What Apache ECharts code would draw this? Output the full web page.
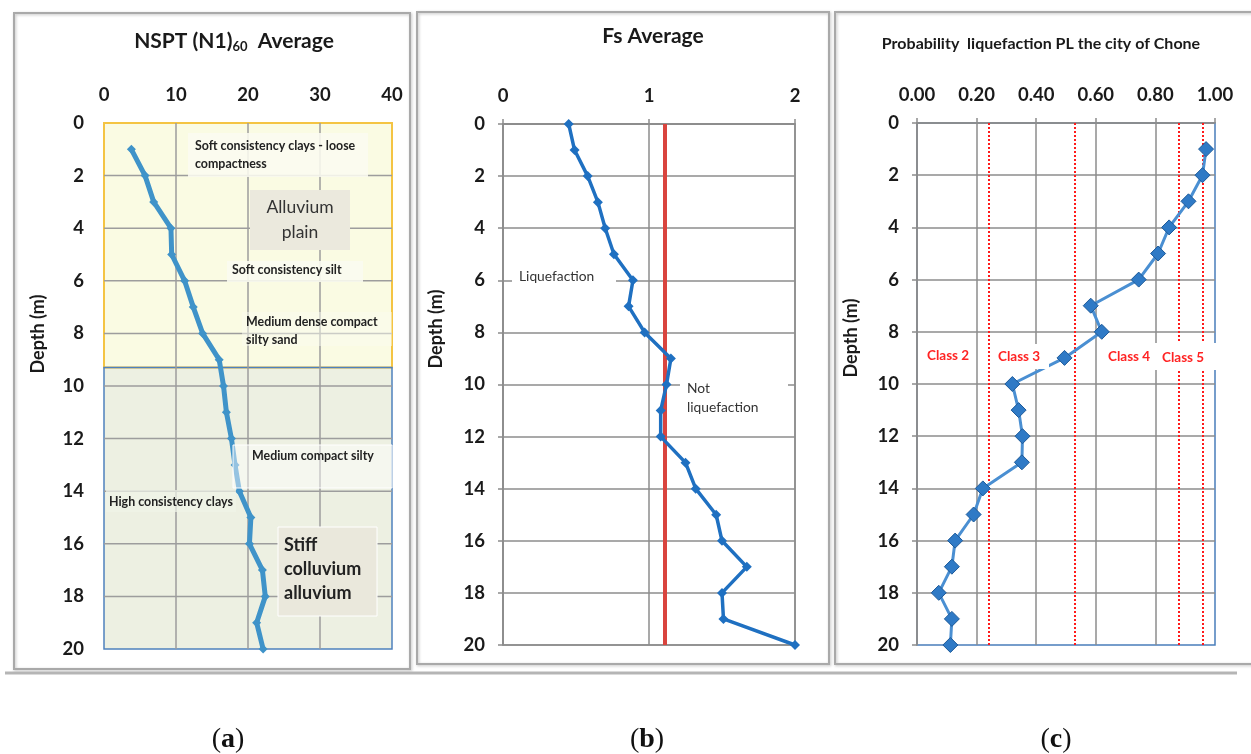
<!DOCTYPE html>
<html>
<head>
<meta charset="utf-8">
<script src="https://cdn.jsdelivr.net/npm/echarts@6/dist/echarts.min.js"></script>
<style>html,body{margin:0;padding:0;background:#fff;}#main{width:1251px;height:754px;}</style>
</head>
<body>
<div id="main"></div>
<script>
// ---- data ----
const depthA = [1,2,3,4,5,6,7,8,9,10,11,12,13,14,15,16,17,18,19,20];
const nsptA  = [3.8,5.7,6.9,9.3,9.4,11.2,12.4,13.7,16.0,16.6,17.0,17.7,18.2,18.8,20.4,20.2,22.0,22.4,21.2,22.1];
const depthB = [0,1,2,3,4,5,6,7,8,9,10,11,12,13,14,15,16,17,18,19,20];
const fsB    = [0.45,0.49,0.58,0.65,0.70,0.76,0.89,0.86,0.97,1.15,1.12,1.08,1.08,1.25,1.32,1.46,1.50,1.67,1.50,1.51,2.0];
const fsLimit = [1.11];
const depthC = [1,2,3,4,5,6,7,8,9,10,11,12,13,14,15,16,17,18,19,20];
const plC    = [0.970,0.958,0.911,0.846,0.809,0.744,0.583,0.620,0.495,0.320,0.341,0.354,0.352,0.221,0.190,0.128,0.117,0.073,0.117,0.112];
const classBounds = [0.24,0.53,0.88,0.96];
const layerA = [[0,9.3],[9.3,20]];
const depthTicks = {min:0,max:20,interval:2};
// inner grid positions of panel (a) (tick values), drawn over the soil layers
const nsptGrid  = [10,20,30];
const depthGrid = [2,4,6,8,10,12,14,16,18];

const FONT = 'Lato';
const pairs = (xs, ys) => xs.map((v,i)=>[v, ys[i]]);

const chart = echarts.init(document.getElementById('main'), null, {renderer:'canvas'});

const LBL = 18.5;
function xAxisBase(gi, min, max, interval, extra){
  return Object.assign({
    gridIndex: gi, type:'value', position:'top', min, max, interval,
    axisLine:{show:true, lineStyle:{color:'#8c8c8c', width:1.5}},
    axisTick:{show:true, inside:false, length:5, lineStyle:{color:'#8c8c8c', width:1.5}},
    axisLabel:{fontFamily:FONT, fontWeight:'bold', fontSize:LBL, color:'#1a1a1a', margin:18},
    splitLine:{show:true, lineStyle:{color:'#8c8c8c', width:1.5}}
  }, extra||{});
}
function yAxisBase(gi, extra){
  return Object.assign({
    gridIndex: gi, type:'value', inverse:true, min:depthTicks.min, max:depthTicks.max, interval:depthTicks.interval,
    axisLine:{show:true, lineStyle:{color:'#8c8c8c', width:1.5}},
    axisTick:{show:true, inside:false, length:5, lineStyle:{color:'#8c8c8c', width:1.5}},
    axisLabel:{fontFamily:FONT, fontWeight:'bold', fontSize:LBL, color:'#1a1a1a', margin:18},
    splitLine:{show:true, lineStyle:{color:'#8c8c8c', width:1.5}}
  }, extra||{});
}

// grid-line helper series for panel (a)
const gridSeriesA = nsptGrid.map(v=>({type:'line', silent:true, xAxisIndex:0, yAxisIndex:0, z:2,
    symbol:'none', lineStyle:{color:'#9d9d9d', width:1.5}, data:[[v, depthTicks.min],[v, depthTicks.max]]}))
  .concat(depthGrid.map(d=>({type:'line', silent:true, xAxisIndex:0, yAxisIndex:0, z:2,
    symbol:'none', lineStyle:{color:'#9d9d9d', width:1.5}, data:[[0, d],[40, d]]})));

const option = {
  animation:false,
  backgroundColor:'#ffffff',
  title:[
    {text:'{t|NSPT (N1)}{s|60}{t|  Average}', left:229, top:25, textAlign:'center',
     textStyle:{rich:{t:{fontFamily:FONT, fontWeight:'bold', fontSize:21, color:'#1a1a1a'},
                      s:{fontFamily:FONT, fontWeight:'bold', fontSize:13, color:'#1a1a1a', padding:[10,0,0,0]}}}},
    {text:'Fs Average', left:648, top:21, textAlign:'center',
     textStyle:{fontFamily:FONT, fontWeight:'bold', fontSize:21, color:'#1a1a1a'}},
    {text:'Probability  liquefaction PL the city of Chone', left:1036, top:31, textAlign:'center',
     textStyle:{fontFamily:FONT, fontWeight:'bold', fontSize:16, color:'#1a1a1a'}}
  ],
  grid:[
    {left:104, top:123, width:288, height:526, show:false},
    {left:503, top:124, width:292, height:521, show:true, backgroundColor:'#fff', borderColor:'#8c8c8c', borderWidth:1.5},
    {left:917, top:123, width:298, height:522, show:true, backgroundColor:'#fff', borderColor:'#4a7ebb', borderWidth:1.5}
  ],
  xAxis:[
    xAxisBase(0, 0, 40, 10, {axisLine:{show:false}, axisTick:{show:false}, splitLine:{show:false}}),
    xAxisBase(1, 0, 2, 1),
    xAxisBase(2, 0, 1, 0.2, {axisLabel:{fontFamily:FONT, fontWeight:'bold', fontSize:LBL, color:'#1a1a1a', margin:18,
      formatter:v=>v.toFixed(2)},
      splitLine:{show:true, showMaxLine:false, lineStyle:{color:'#8c8c8c', width:1.5}}})
  ],
  yAxis:[
    yAxisBase(0, {axisLine:{show:false}, axisTick:{show:false}, splitLine:{show:false},
      axisLabel:{fontFamily:FONT, fontWeight:'bold', fontSize:LBL, color:'#1a1a1a', margin:20}}),
    yAxisBase(1, {axisLabel:{fontFamily:FONT, fontWeight:'bold', fontSize:LBL, color:'#1a1a1a', margin:18}}),
    yAxisBase(2, {axisLabel:{fontFamily:FONT, fontWeight:'bold', fontSize:LBL, color:'#1a1a1a', margin:18},
      splitLine:{show:true, showMaxLine:false, lineStyle:{color:'#8c8c8c', width:1.5}}})
  ],
  series:[
    {type:'line', name:'NSPT (N1)60', xAxisIndex:0, yAxisIndex:0, data:pairs(nsptA, depthA), z:3,
     symbol:'diamond', symbolSize:9, lineStyle:{color:'#3f93c9', width:5}, itemStyle:{color:'#3f93c9'}},
    {type:'line', name:'Fs', xAxisIndex:1, yAxisIndex:1, data:pairs(fsB, depthB), z:3,
     symbol:'diamond', symbolSize:10, lineStyle:{color:'#1f70c1', width:3.5}, itemStyle:{color:'#1f70c1'},
     markLine:{silent:true, symbol:'none', z:2, label:{show:false},
       lineStyle:{color:'#d9443e', width:4, type:'solid'},
       data:fsLimit.map(v=>({xAxis:v}))}},
    {type:'line', name:'PL', xAxisIndex:2, yAxisIndex:2, data:pairs(plC, depthC), z:3,
     symbol:'diamond', symbolSize:15, lineStyle:{color:'#4a8fd2', width:3}, itemStyle:{color:'#2f7ac6', borderColor:'#1d5a99', borderWidth:1},
     markLine:{silent:true, symbol:'none', z:2, label:{show:false},
       lineStyle:{color:'#ff1a1a', width:2, type:[2,2]},
       data:classBounds.map(v=>({xAxis:v}))}}
  ].concat(gridSeriesA),
  graphic:[]
};

chart.setOption(option);

// decorative frames, layer backgrounds, annotations and axis names
const g = [];
const frame = (x,y,w,h)=>({type:'rect', silent:true, z:-10, shape:{x,y,width:w,height:h},
  style:{fill:'none', stroke:'#a9a9a9', lineWidth:2, shadowBlur:3, shadowColor:'rgba(0,0,0,0.25)', shadowOffsetX:1, shadowOffsetY:1}});
g.push(frame(14,13,396,656));
g.push(frame(417,12,412,652));
g.push(frame(835,12,424,652));
g.push({type:'line', silent:true, z:-10, shape:{x1:5,y1:673,x2:1237,y2:673}, style:{stroke:'#b5b5b5', lineWidth:3}});

// soil layers of panel (a), placed through the axis scales
const px = (x,y)=>chart.convertToPixel({xAxisIndex:0, yAxisIndex:0}, [x,y]);
const layerFill = ['#fafbe3', '#edf0e2'];
const layerStroke = [['#f4c443',2], ['#4f81bd',1.5]];
layerA.forEach((r,i)=>{
  const p0 = px(0, r[0]);
  const p1 = px(40, r[1]);
  g.push({type:'rect', silent:true, z:-6, shape:{x:p0[0], y:p0[1], width:p1[0]-p0[0], height:p1[1]-p0[1]}, style:{fill:layerFill[i], stroke:'none'}});
  g.push({type:'rect', silent:true, z:-3, shape:{x:p0[0], y:p0[1], width:p1[0]-p0[0], height:p1[1]-p0[1]}, style:{fill:'none', stroke:layerStroke[i][0], lineWidth:layerStroke[i][1]}});
});

const txt = (x,y,text,opt)=>({type:'text', silent:true, z:20, x, y,
  style:Object.assign({text, fontFamily:FONT, fontSize:12.4, fontWeight:'bold', fill:'#222'}, opt||{})});
const box = (x,y,w,h,fill,stroke)=>({type:'rect', silent:true, z:19, shape:{x,y,width:w,height:h},
  style:{fill, stroke:stroke||'none', lineWidth:1}});

// panel (a)
g.push(box(188,133,180,44,'rgba(250,251,240,0.88)'));
g.push(txt(195,137,'Soft consistency clays - loose\ncompactness',{lineHeight:18}));
g.push(box(250,190,100,60,'#ebe9dd'));
g.push(txt(300,220,'Alluvium\nplain',{fontSize:17.5, fontWeight:'normal', fill:'#333', align:'center', verticalAlign:'middle', lineHeight:25}));
g.push(box(227,261,136,21,'rgba(250,251,240,0.9)'));
g.push(txt(232,264,'Soft consistency silt'));
g.push(box(242,312,150,34,'rgba(250,251,240,0.5)'));
g.push(txt(246,313,'Medium dense compact\nsilty sand',{lineHeight:18}));
g.push(box(233,445,159,43,'rgba(255,255,255,0.45)','#ffffff'));
g.push(txt(252,450,'Medium compact silty'));
g.push(box(106,490,130,22,'rgba(240,243,232,0.7)'));
g.push(txt(109,496,'High consistency clays'));
g.push(box(278,527,99,89,'#eae8dc','#ffffff'));
g.push(txt(284,533,'Stiff\ncolluvium\nalluvium',{fontSize:18, fontWeight:'bold', fill:'#222', lineHeight:24}));

// panel (b)
g.push(box(512,269,104,18,'#ffffff'));
g.push(txt(519,270,'Liquefaction',{fontSize:13.8, fontWeight:'normal', fill:'#333'}));
g.push(box(680,377,108,40,'#ffffff'));
g.push(txt(687,379,'Not\nliquefaction',{fontSize:13.8, fontWeight:'normal', fill:'#333', lineHeight:19}));

// panel (c) class labels
g.push(box(923,344,52,25,'#ffffff'));
g.push(box(995,344,54,25,'#ffffff'));
g.push(box(1100,343,117,27,'#ffffff'));
const cls = {fontSize:13.5, fontWeight:'bold', fill:'#ff2323'};
g.push(txt(927,349,'Class 2',cls));
g.push(txt(998,350,'Class 3',cls));
g.push(txt(1108,350,'Class 4',cls));
g.push(txt(1162,351,'Class 5',cls));

// depth axis names (rotated)
const yname = (x,y)=>({type:'text', silent:true, z:20, x, y, rotation:Math.PI/2,
  style:{text:'Depth (m)', fontFamily:FONT, fontSize:18, fontWeight:'bold', fill:'#1a1a1a', align:'center', verticalAlign:'middle'}});
g.push(yname(38,334));
g.push(yname(436,329));
g.push(yname(851,338));

// panel captions
const cap = (x,letter)=>({type:'text', silent:true, z:20, x, y:740,
  style:{text:'{p|(}{l|'+letter+'}{p|)}', align:'center', verticalAlign:'middle',
    rich:{p:{fontFamily:'Liberation Serif', fontSize:28, fill:'#111'}, l:{fontFamily:'Liberation Serif', fontSize:28, fontWeight:'bold', fill:'#111'}}}});
g.push(cap(228,'a'));
g.push(cap(647,'b'));
g.push(cap(1056,'c'));

chart.setOption({graphic:g});
</script>
</body>
</html>
